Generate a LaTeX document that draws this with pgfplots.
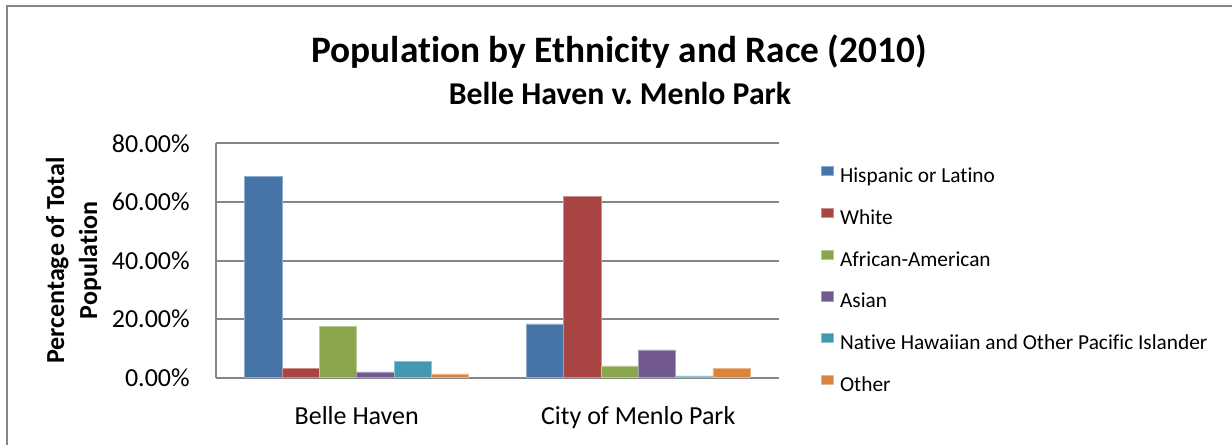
\documentclass[border=0pt]{standalone}
\usepackage{pgfplots}
\pgfplotsset{compat=1.18}
\usepackage{fontspec}
\setmainfont{Carlito}[Ligatures=NoCommon]
\frenchspacing
\definecolor{cA}{RGB}{70,116,168}
\definecolor{cB}{RGB}{168,69,66}
\definecolor{cC}{RGB}{138,166,77}
\definecolor{cD}{RGB}{114,89,143}
\definecolor{cE}{RGB}{66,152,175}
\definecolor{cF}{RGB}{219,132,61}
\definecolor{gridc}{RGB}{134,134,134}
\begin{document}
\begin{tikzpicture}
\useasboundingbox (0,0) rectangle (924pt,333pt);
\fill[white] (0,0) rectangle (924pt,333pt);
\draw[gridc, line width=1.5pt] (5.25pt,-2pt) -- (5.25pt,328.5pt) -- (930pt,328.5pt);
\node[anchor=base, font=\bfseries\fontsize{28}{32}\selectfont] at (464.25pt,286.5pt) {Population by Ethnicity and Race (2010)};
\node[anchor=base, font=\bfseries\fontsize{23.8}{28}\selectfont] at (465pt,254.8pt) {Belle Haven v. Menlo Park};
\begin{axis}[
 at={(162pt,49.725pt)}, anchor=south west,
 scale only axis, width=422.25pt, height=175.8pt,
 ybar=0pt, bar width=28pt,
 xmin=-0.5, xmax=1.5, ymin=0, ymax=80,
 xtick={0,1}, xticklabels={Belle Haven, City of Menlo Park},
 ytick={0,20,40,60,80},
 yticklabel={\pgfmathprintnumber[fixed,fixed zerofill,precision=2]{\tick}\%},
 /pgf/number format/assume math mode=true,
 axis x line*=bottom, axis y line*=left,
 x axis line style={-, draw=gridc, line width=1.5pt},
 y axis line style={-, draw=gridc, line width=1.5pt},
 major tick length=0pt,
 ymajorgrids, major grid style={draw=gridc, line width=1.5pt},
 tick label style={font=\fontsize{19.5}{23}\selectfont},
 yticklabel style={anchor=east, inner sep=0pt, xshift=-19.5pt},
 xticklabel style={anchor=north, inner sep=0pt, text height=13pt, yshift=-22.2pt},
 ylabel={Percentage of Total\\Population},
 ylabel style={at={(axis description cs:-0.2531,0.5)}, anchor=center, align=center, font=\bfseries\fontsize{19.5}{24.75}\selectfont},
 legend style={at={(1.0746,0.9433)}, anchor=north west, draw=none, fill=none, inner sep=0pt, column sep=4.7pt, row sep=0pt, font=\fontsize{16}{19}\selectfont, nodes={inner sep=0pt, text height=19.3pt, text depth=12pt}},
 legend cell align=left,
 legend image code/.code={\fill[#1] (0pt,1.6pt) rectangle (9pt,8.4pt);},
]
\addplot[fill=cA, draw=cA!60!white] coordinates {(0,68.6) (1,18.4)};
\addplot[fill=cB, draw=cB!60!white] coordinates {(0,3.3) (1,61.8)};
\addplot[fill=cC, draw=cC!60!white] coordinates {(0,17.6) (1,4.0)};
\addplot[fill=cD, draw=cD!60!white] coordinates {(0,2.0) (1,9.5)};
\addplot[fill=cE, draw=cE!60!white] coordinates {(0,5.5) (1,0.6)};
\addplot[fill=cF, draw=cF!60!white] coordinates {(0,1.3) (1,3.3)};
\legend{Hispanic or Latino, White, African-American, Asian, Native Hawaiian and Other Pacific Islander, Other}
\end{axis}
\end{tikzpicture}
\end{document}
